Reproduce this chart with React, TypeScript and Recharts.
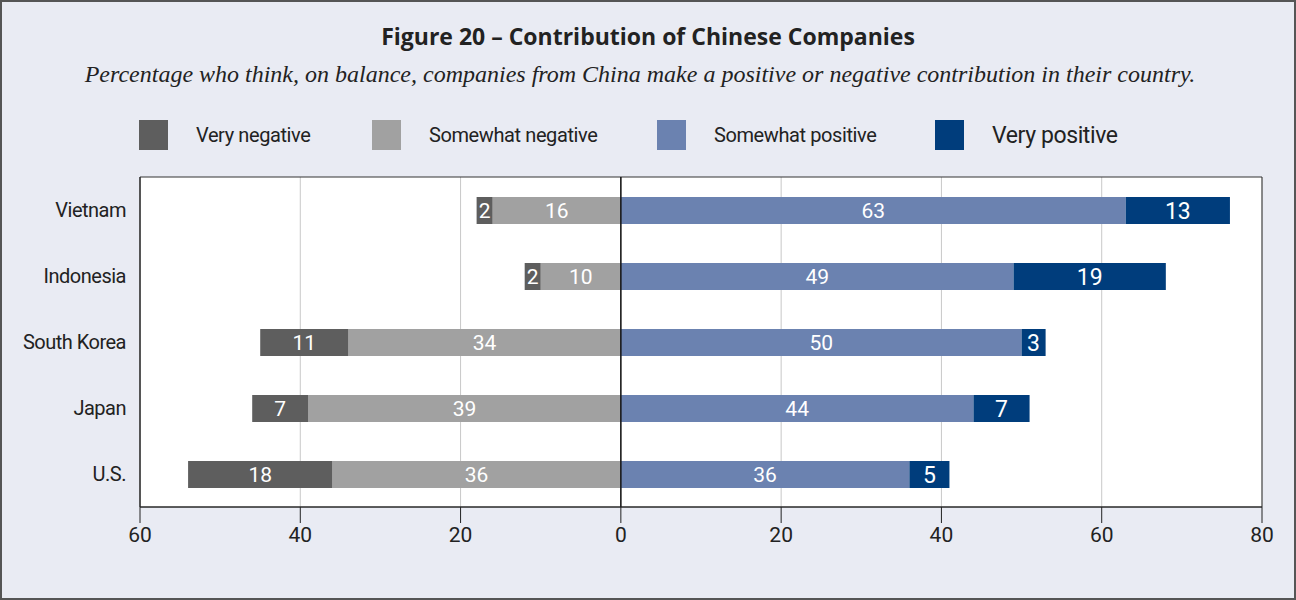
import { BarChart, Bar, XAxis, YAxis, CartesianGrid, ReferenceLine, ReferenceArea, LabelList } from "recharts";

const countries = ["Vietnam", "Indonesia", "South Korea", "Japan", "U.S."];
const veryNegative = [2, 2, 11, 7, 18];
const somewhatNegative = [16, 10, 34, 39, 36];
const somewhatPositive = [63, 49, 50, 44, 36];
const veryPositive = [13, 19, 3, 7, 5];
const xTicks = [-60, -40, -20, 0, 20, 40, 60, 80];

const seriesNames = ["Very negative", "Somewhat negative", "Somewhat positive", "Very positive"];
const colors = ["#5e5e5e", "#a1a1a1", "#6b82b0", "#003d7c"];

// negatives are drawn left of zero
const data = countries.map((c, i) => ({
  country: c,
  vn: -veryNegative[i],
  sn: -somewhatNegative[i],
  sp: somewhatPositive[i],
  vp: veryPositive[i],
}));

const narrow = "Roboto, sans-serif";
const fmt = (v: any) => Math.abs(Number(v));

const legendLeft = [137, 370, 655, 933];

export default function App() {
  return (
    <div style={{ position: "relative", width: 1296, height: 600, background: "#e9ebf3", border: "2px solid #555", boxSizing: "border-box" }}>
      <style>{`body{margin:0}`}</style>
      <div style={{ position: "absolute", top: 18, left: 0, width: 1292, textAlign: "center", fontFamily: "'Open Sans', sans-serif", fontWeight: 700, fontSize: 23, color: "#222" }}>
        Figure 20 – Contribution of Chinese Companies
      </div>
      <div style={{ position: "absolute", top: 59, left: 0, width: 1276, textAlign: "center", fontFamily: "'Liberation Serif', serif", fontStyle: "italic", fontSize: 24, color: "#222" }}>
        Percentage who think, on balance, companies from China make a positive or negative contribution in their country.
      </div>
      {seriesNames.map((name, i) => (
        <div key={name} style={{ position: "absolute", top: 118, left: legendLeft[i], display: "flex", alignItems: "center", fontFamily: narrow, fontSize: i === 3 ? 23 : 20, letterSpacing: -0.4, color: "#222" }}>
          <div style={{ width: 29, height: 30, background: colors[i], marginRight: 28 }} />
          <span>{name}</span>
        </div>
      ))}
      <div style={{ position: "absolute", top: 0, left: 0 }}>
        <BarChart
          width={1292}
          height={596}
          data={data}
          layout="vertical"
          stackOffset="sign"
          barSize={27}
          margin={{ top: 175, right: 32, bottom: 51, left: 8 }}
        >
          <CartesianGrid horizontal={false} stroke="#c8c8c8" fill="#fff" />
          <XAxis
            type="number"
            domain={[-60, 80]}
            ticks={xTicks}
            tickFormatter={fmt}
            tickSize={16}
            tickMargin={4}
            height={40}
            stroke="#222"
            tick={{ fill: "#222", fontSize: 21, fontFamily: narrow }}
          />
          <YAxis
            type="category"
            dataKey="country"
            width={130}
            tickLine={false}
            tickMargin={8}
            stroke="#222"
            tick={{ fill: "#222", fontSize: 20, fontFamily: narrow, letterSpacing: -0.5 }}
          />
          <ReferenceArea x1={-60} x2={80} fill="none" stroke="#333" strokeWidth={1} ifOverflow="visible" />
          <Bar dataKey="sn" stackId="a" fill={colors[1]} isAnimationActive={false}>
            <LabelList dataKey="sn" position="center" formatter={fmt} fill="#fff" style={{ fontSize: 21, fontFamily: narrow }} />
          </Bar>
          <Bar dataKey="vn" stackId="a" fill={colors[0]} isAnimationActive={false}>
            <LabelList dataKey="vn" position="center" formatter={fmt} fill="#fff" style={{ fontSize: 21, fontFamily: narrow }} />
          </Bar>
          <Bar dataKey="sp" stackId="a" fill={colors[2]} isAnimationActive={false}>
            <LabelList dataKey="sp" position="center" formatter={fmt} fill="#fff" style={{ fontSize: 21, fontFamily: narrow }} />
          </Bar>
          <Bar dataKey="vp" stackId="a" fill={colors[3]} isAnimationActive={false}>
            <LabelList dataKey="vp" position="center" formatter={fmt} fill="#fff" style={{ fontSize: 23, fontFamily: narrow }} />
          </Bar>
          <ReferenceLine x={0} stroke="#111" strokeWidth={1.5} />
        </BarChart>
      </div>
    </div>
  );
}
